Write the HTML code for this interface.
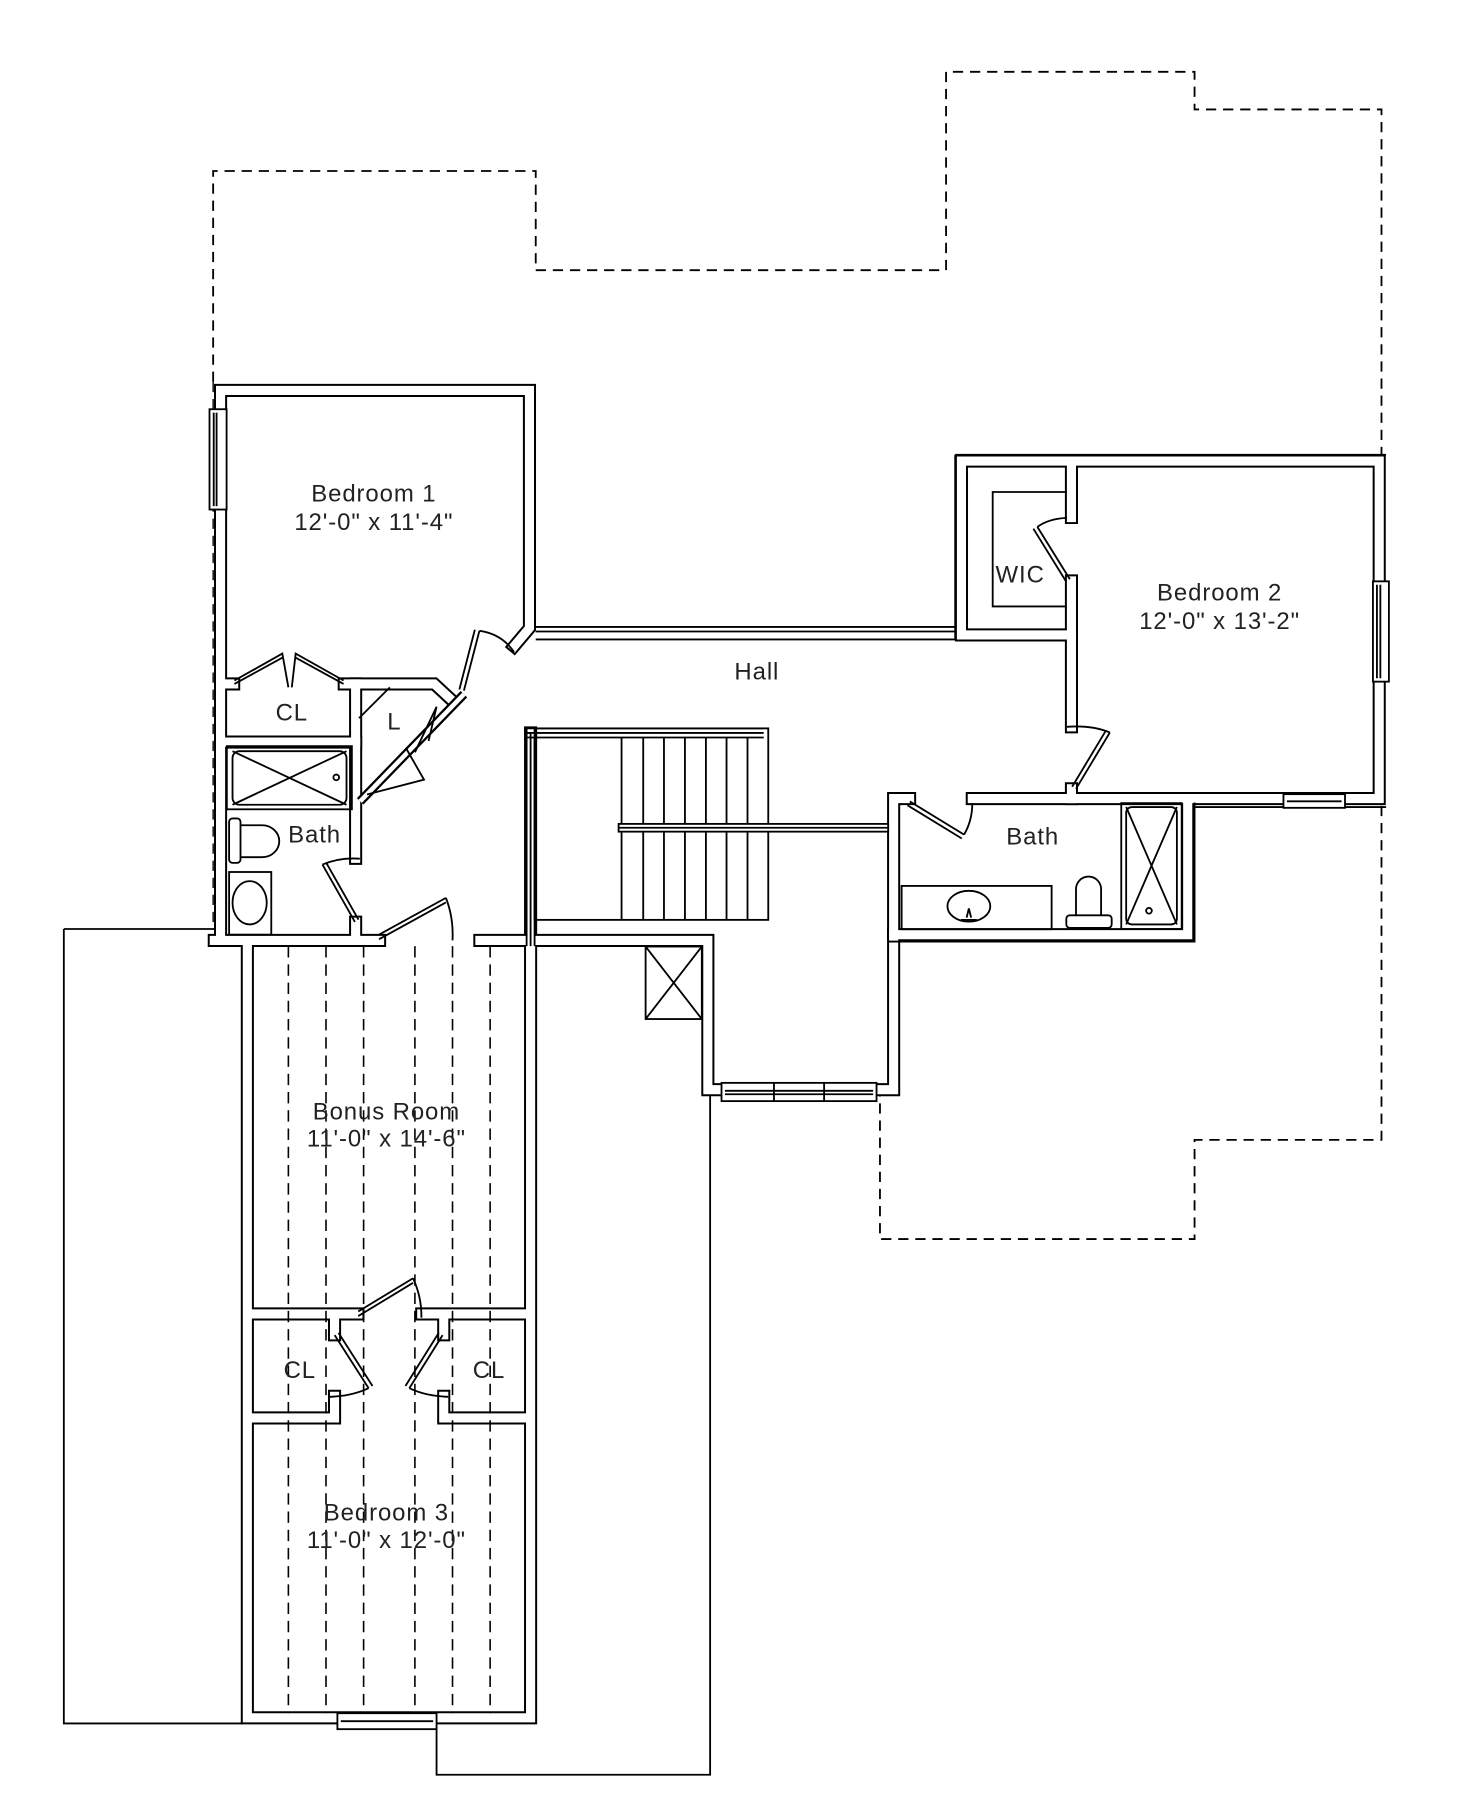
<!DOCTYPE html>
<html><head><meta charset="utf-8"><style>
html,body{margin:0;padding:0;background:#fff;}
svg{display:block}
text{font-family:"Liberation Sans",Arial,sans-serif;font-size:21px;letter-spacing:0.8px;fill:#222;text-anchor:middle}
</style></head><body>
<svg width="1459" height="1797" viewBox="0 0 1280 1576.5" xmlns="http://www.w3.org/2000/svg">
<defs>
<g id="walls" fill="none" stroke-linejoin="miter" stroke-linecap="square">
<path d="M193.5,825 L193.5,342.5 L464.5,342.5 L464.5,551 L451,567"/>
<path d="M188,825 L333,825"/>
<path d="M421,825 L621,825 L621,956 L784,956 L784,700.6 L798,700.6"/>
<path d="M853,700.6 L1210,700.6 L1210,404.5 L843.5,404.5 L843.5,557 L940,557"/>
<path d="M940,404.5 L940,454"/>
<path d="M940,509.6 L940,637.6"/>
<path d="M940,692 L940,700.6"/>
<path d="M1042,700.6 L1042,820 L784,820"/>
<path d="M200,600 L205,600"/>
<path d="M302,600 L381,600 L395,613"/>
<path d="M199,651 L312,651"/>
<path d="M312,600 L312,753"/>
<path d="M312,809 L312,825"/>
<path d="M465.5,643 L465.5,1507 L217,1507 L217,830"/>
<path d="M221,1152.7 L314,1152.7"/>
<path d="M370,1152.7 L465,1152.7"/>
<path d="M221,1244 L293.5,1244 L293.5,1225"/>
<path d="M293.5,1156 L293.5,1171"/>
<path d="M465,1244 L389.3,1244 L389.3,1225"/>
<path d="M389.3,1156 L389.3,1171"/>
</g>
</defs>
<path d="M187,335 L187,150 L470,150 L470,237 L830,237 L830,63 L1048,63 L1048,96 L1212,96 L1212,1000 L1048,1000 L1048,1087 L772,1087 L772,955" fill="none" stroke="#000" stroke-width="1.6" stroke-dasharray="9,6"/>
<path d="M187,335 L187,815" fill="none" stroke="#000" stroke-width="1.2" stroke-dasharray="9,6"/>
<use href="#walls" stroke="#000" stroke-width="11.5"/>
<use href="#walls" stroke="#fff" stroke-width="8"/>
<g fill="none" stroke="#000" stroke-width="1.6">
<path d="M56,815 L188,815 M56,815 L56,1512 L213,1512 M383,1512 L383,1557 L623,1557 L623,961"/>
<path d="M838,399 L838,560 M838,399 L1216,399 M1048,708 L1216,708 M1048,704 L1048,826 L779,826"/>
<path d="M470,550 L838,550 M470,554 L838,554 M470,561 L838,561"/>
<rect x="183.8" y="359" width="15" height="88" fill="#fff"/>
<path d="M187.5,362 L187.5,444 M190,362 L190,444"/>
<rect x="1204.5" y="510" width="14" height="88" fill="#fff"/>
<path d="M1208,513 L1208,595 M1211,513 L1211,595"/>
<rect x="1126" y="696.7" width="54" height="12" fill="#fff"/>
<path d="M1129,703 L1177,703"/>
<rect x="296" y="1503" width="87" height="14" fill="#fff"/>
<path d="M299,1510 L380,1510"/>
<rect x="633" y="950" width="136" height="16" fill="#fff"/>
<path d="M636,957 L766,957 M636,960 L766,960 M679,950 L679,966 M723,950 L723,966"/>
<path d="M420.6,553.4 L407,605.9 M416.6,552.4 L403,604.9"/>
<path d="M420.6,553.4 Q440,556 451,572"/>
<path d="M205.7,597 L247.7,573.4 L253,603 M205.7,600 L247.7,577 M301.4,597 L259.4,573.4 L256,603 M301.4,600 L259.4,577"/>
<path d="M316,703 L407,609" stroke-width="8" stroke="#000"/>
<path d="M316,703 L407,609" stroke-width="4" stroke="#fff"/>
<path d="M315,630 L342,603"/>
<path d="M356,656 L372,684 L322,697 M376,650 L383,620 L364,660"/>
<text x="346" y="640" stroke="none">L</text>
<rect x="199" y="654.6" width="109.7" height="55.4"/>
<rect x="204" y="659" width="100" height="47" rx="6"/>
<path d="M204,659 L304,706 M304,659 L204,706"/>
<circle cx="295" cy="682" r="2.5"/>
<rect x="201" y="718" width="10" height="39" rx="3"/>
<path d="M211,724 L230,724 A15,14 0 0 1 230,752 L211,752"/>
<rect x="201" y="765" width="37" height="55"/>
<ellipse cx="219" cy="792" rx="15" ry="19"/>
<path d="M282.9,758.5 L311.4,808.8 M286,756.5 L314.5,806.8"/>
<path d="M282.9,758.5 Q298,752 315.7,753.3"/>
<path d="M332.5,820 L391.2,787.7 M332.5,824 L391.2,791.7"/>
<path d="M391.2,787.7 Q398,805 397,825"/>
<rect x="469" y="639" width="205" height="168"/>
<path d="M462,639 L670,639 M462,643 L670,643 M462,647 L670,647"/>
<path d="M462,639 L462,830 M465.5,643 L465.5,830 M469,647 L469,830"/>
<path d="M545.3,647 V722.8 M564.3,647 V722.8 M582.5,647 V722.8 M600.9,647 V722.8 M619.3,647 V722.8 M637.4,647 V722.8 M655.8,647 V722.8 M545.3,729.6 V807 M564.3,729.6 V807 M582.5,729.6 V807 M600.9,729.6 V807 M619.3,729.6 V807 M637.4,729.6 V807 M655.8,729.6 V807"/>
<rect x="542.7" y="722.8" width="236.5" height="6.8" fill="#fff"/>
<path d="M542.7,726.2 L779,726.2"/>
<rect x="566.4" y="830.4" width="49.3" height="63.6"/>
<path d="M566.4,830.4 L615.7,894 M615.7,830.4 L566.4,894"/>
<path d="M936,431.6 L870.9,431.6 L870.9,532 L936,532"/>
<path d="M910.1,462.2 L938.6,508.2 M906.6,463.8 L935.1,509.8"/>
<path d="M910.1,462.2 Q920,455 936,454.3"/>
<path d="M973.7,642.6 L944,692 M970.3,640.8 L940.6,690.2"/>
<path d="M936,637.6 Q958,636 973.7,642.6"/>
<path d="M798.2,703.1 L845.8,732.2 M796.2,706.5 L843.8,735.6"/>
<path d="M845.8,732.2 Q853,720 853,704.6"/>
<rect x="791" y="777.2" width="131.6" height="38"/>
<ellipse cx="850" cy="795" rx="18.8" ry="13.5"/>
<path d="M848,805 L850,797 L852,805 M843,807 L857,807"/>
<rect x="935.5" y="803" width="39.8" height="11" rx="3"/>
<path d="M944,803 L944,780 A11,11 0 0 1 966,780 L966,803"/>
<rect x="983.7" y="704.6" width="53" height="110.5"/>
<rect x="988" y="708" width="44.5" height="103" rx="5"/>
<path d="M988,708 L1032.5,811 M1032.5,708 L988,811"/>
<circle cx="1008" cy="799" r="2.5"/>
<path d="M253,830 V1503 M286,830 V1503 M319,830 V1503 M364,830 V1503 M397,830 V1503 M430,830 V1503" stroke-dasharray="10,6" stroke-width="1.4"/>
<path d="M314.3,1150.6 L362.4,1121.4 M314.3,1154.6 L362.4,1125.4"/>
<path d="M362.4,1121.4 Q370,1138 369.7,1156"/>
<path d="M293.6,1171.3 L323.4,1217.9 M297,1169.3 L326.8,1215.9"/>
<path d="M323.4,1217.9 Q308,1225 289.5,1225.4"/>
<path d="M388.3,1171.3 L359.1,1217.9 M384.9,1169.3 L355.7,1215.9"/>
<path d="M359.1,1217.9 Q374,1225 393.3,1225.4"/>
</g>
<text x="328" y="440">Bedroom 1</text>
<text x="328" y="465">12'-0" x 11'-4"</text>
<text x="256" y="632">CL</text>
<text x="276" y="739">Bath</text>
<text x="664" y="596">Hall</text>
<text x="895" y="511">WIC</text>
<text x="1070" y="527">Bedroom 2</text>
<text x="1070" y="552">12'-0" x 13'-2"</text>
<text x="906" y="741">Bath</text>
<text x="339" y="982">Bonus Room</text>
<text x="339" y="1006">11'-0" x 14'-6"</text>
<text x="263" y="1209">CL</text>
<text x="429" y="1209">CL</text>
<text x="339" y="1334">Bedroom 3</text>
<text x="339" y="1358">11'-0" x 12'-0"</text>
</svg>
</body></html>
